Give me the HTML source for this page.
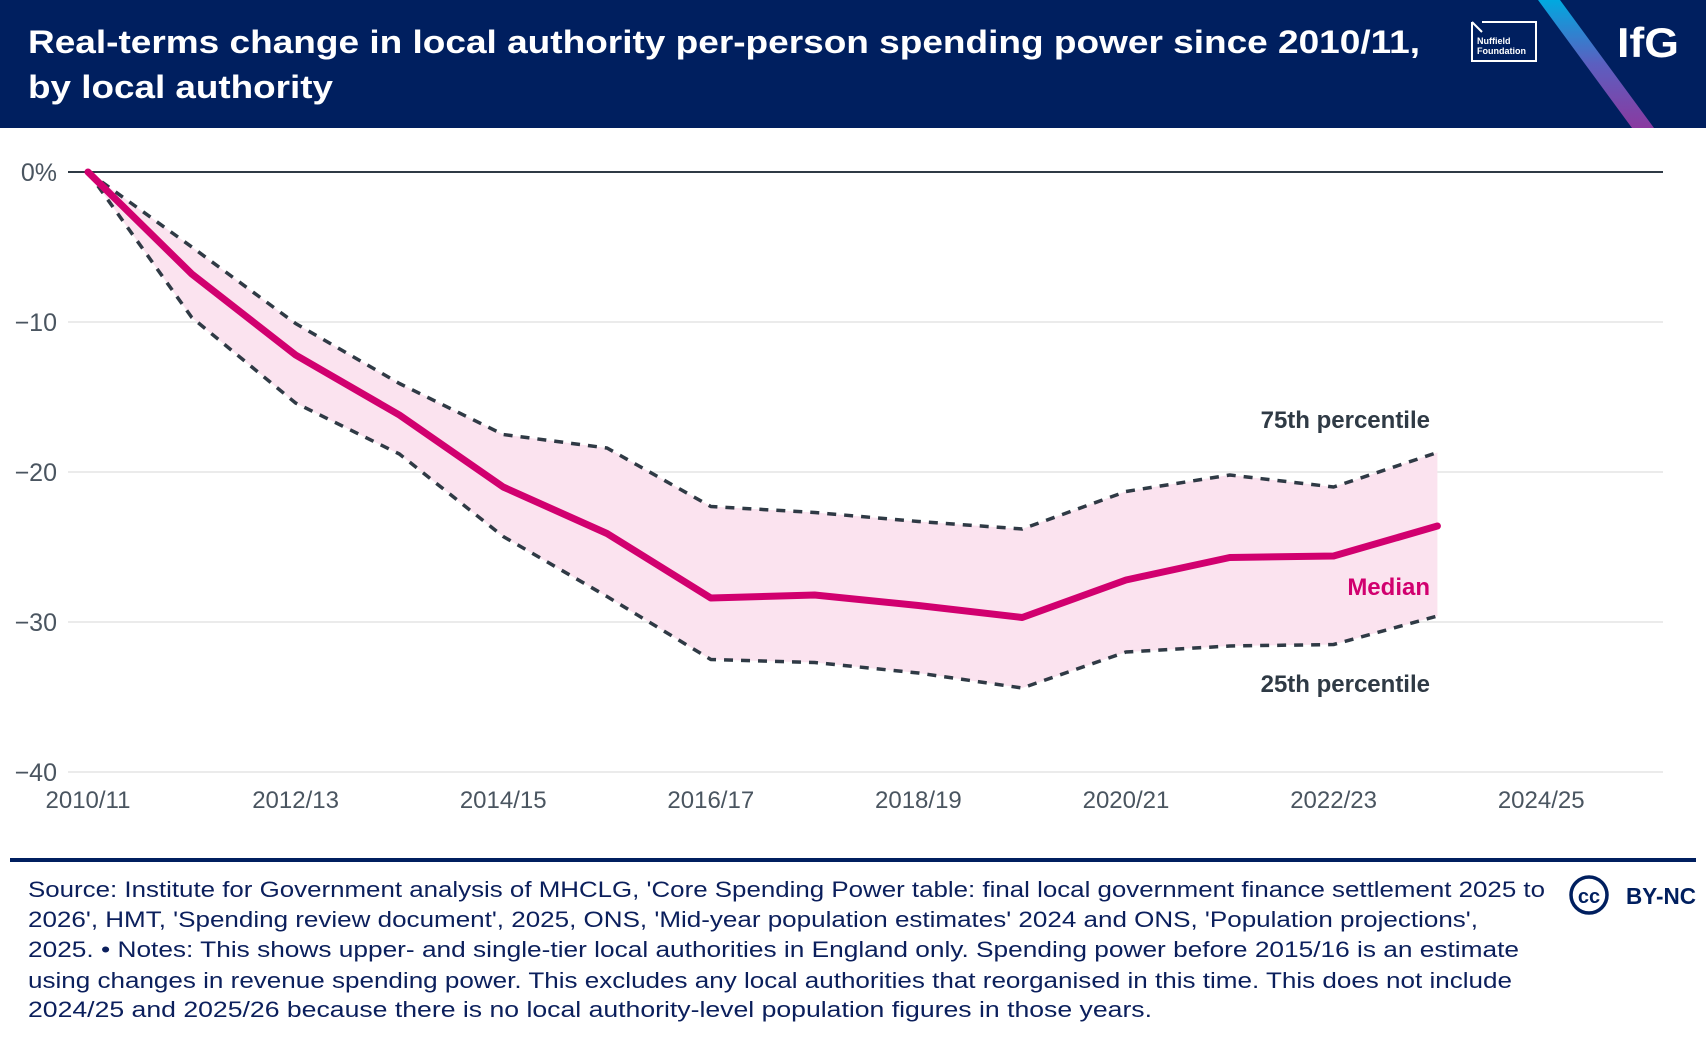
<!DOCTYPE html>
<html><head><meta charset="utf-8"><style>
html,body{margin:0;padding:0;background:#fff;}
svg{display:block;font-family:"Liberation Sans",sans-serif;}
</style></head><body>
<svg id="chart" width="1706" height="1038" viewBox="0 0 1706 1038" xmlns="http://www.w3.org/2000/svg">
<defs>
<linearGradient id="stripe" x1="0" y1="0" x2="0" y2="1">
<stop offset="0" stop-color="#00a9e0"/><stop offset="0.5" stop-color="#5b5fc0"/><stop offset="1" stop-color="#8a3aa0"/>
</linearGradient>
</defs>
<rect x="0" y="0" width="1706" height="128" fill="#001f5f"/>
<polygon points="1538,0 1560,0 1654,128 1632,128" fill="url(#stripe)"/>
<text x="28" y="53" fill="#fff" font-weight="bold" font-size="32" textLength="1392" lengthAdjust="spacingAndGlyphs">Real-terms change in local authority per-person spending power since 2010/11,</text>
<text x="28" y="98" fill="#fff" font-weight="bold" font-size="32" textLength="305" lengthAdjust="spacingAndGlyphs">by local authority</text>
<g>
<polyline points="1472,22 1472,61 1536,61 1536,22 1482,22" fill="none" stroke="#fff" stroke-width="2"/>
<line x1="1472" y1="22" x2="1482" y2="32" stroke="#fff" stroke-width="2"/>
<text x="1477" y="44" fill="#fff" font-size="9" font-weight="bold">Nuffield</text>
<text x="1477" y="54" fill="#fff" font-size="9" font-weight="bold">Foundation</text>
</g>
<text x="1617" y="57" fill="#fff" font-weight="bold" font-size="42" textLength="62" lengthAdjust="spacingAndGlyphs">IfG</text>
<g id="grid"></g>
<g id="yticks"></g>
<g id="xticks"></g>
<g id="series"></g>
<text x="1430" y="428" text-anchor="end" fill="#2f3a45" font-weight="bold" font-size="24">75th percentile</text>
<text x="1430" y="595" text-anchor="end" fill="#d1006f" font-weight="bold" font-size="24">Median</text>
<text x="1430" y="692" text-anchor="end" fill="#2f3a45" font-weight="bold" font-size="24">25th percentile</text>
<rect x="10" y="858" width="1686" height="4" fill="#001f5f"/>
<g fill="#0b1f5c" font-size="22">
<text x="28" y="897" textLength="1517" lengthAdjust="spacingAndGlyphs">Source: Institute for Government analysis of MHCLG, 'Core Spending Power table: final local government finance settlement 2025 to</text>
<text x="28" y="927" textLength="1450" lengthAdjust="spacingAndGlyphs">2026', HMT, 'Spending review document', 2025, ONS, 'Mid-year population estimates' 2024 and ONS, 'Population projections',</text>
<text x="28" y="957" textLength="1491" lengthAdjust="spacingAndGlyphs">2025. • Notes: This shows upper- and single-tier local authorities in England only. Spending power before 2015/16 is an estimate</text>
<text x="28" y="988" textLength="1484" lengthAdjust="spacingAndGlyphs">using changes in revenue spending power. This excludes any local authorities that reorganised in this time. This does not include</text>
<text x="28" y="1017" textLength="1124" lengthAdjust="spacingAndGlyphs">2024/25 and 2025/26 because there is no local authority-level population figures in those years.</text>
</g>
<g>
<circle cx="1589" cy="895" r="18" fill="none" stroke="#001f5f" stroke-width="3.5"/>
<text x="1589" y="903" text-anchor="middle" fill="#001f5f" font-weight="bold" font-size="20">cc</text>
<text x="1626" y="904" fill="#001f5f" font-weight="bold" font-size="23" textLength="70" lengthAdjust="spacingAndGlyphs">BY-NC</text>
</g>
</svg>
<script>
const years = ["2010/11","2011/12","2012/13","2013/14","2014/15","2015/16","2016/17","2017/18","2018/19","2019/20","2020/21","2021/22","2022/23","2023/24"];
const median = [0,-6.8,-12.2,-16.2,-21.0,-24.1,-28.4,-28.2,-28.9,-29.7,-27.2,-25.7,-25.6,-23.6];
const p75 = [0,-5.0,-10.1,-14.1,-17.5,-18.4,-22.3,-22.7,-23.3,-23.8,-21.3,-20.2,-21.0,-18.7];
const p25 = [0,-9.7,-15.4,-18.8,-24.3,-28.3,-32.5,-32.7,-33.4,-34.4,-32.0,-31.6,-31.5,-29.6];
const yTicks = [0,-10,-20,-30,-40];
const yTickLabels = ["0%","\u221210","\u221220","\u221230","\u221240"];
const xTickLabels = ["2010/11","2012/13","2014/15","2016/17","2018/19","2020/21","2022/23","2024/25"];
const xTickIdx = [0,2,4,6,8,10,12,14];

const NS="http://www.w3.org/2000/svg";
const X0=88, XSTEP=103.8, Y0=172, YPER=15;
function xs(i){return X0+i*XSTEP;}
function ys(v){return Y0-v*YPER;}
function mk(tag,attrs,parent){const e=document.createElementNS(NS,tag);for(const k in attrs)e.setAttribute(k,attrs[k]);parent.appendChild(e);return e;}

const grid=document.getElementById('grid'), yt=document.getElementById('yticks'), xt=document.getElementById('xticks'), ser=document.getElementById('series');
yTicks.forEach((v,i)=>{
  if(v!==0){const l=mk('line',{x1:68,x2:1663,y1:ys(v),y2:ys(v),stroke:'#ebebeb','stroke-width':2},grid);
  
  }
  const t=mk('text',{x:57,y:ys(v)+9,'text-anchor':'end',fill:'#4a5560','font-size':25},yt);
  t.textContent=yTickLabels[i];
  
  
});
xTickLabels.forEach((s,i)=>{
  const t=mk('text',{x:xs(xTickIdx[i]),y:808,'text-anchor':'middle',fill:'#4a5560','font-size':24},xt);
  t.textContent=s;
  
  
});
// band
let pts=p75.map((v,i)=>xs(i)+','+ys(v));
for(let i=p25.length-1;i>=0;i--)pts.push(xs(i)+','+ys(p25[i]));
const band=mk('polygon',{points:pts.join(' '),fill:'#fbe3ef'},ser);


const zero=mk('line',{x1:68,x2:1663,y1:ys(0),y2:ys(0),stroke:'#2f3a45','stroke-width':2},ser);


function line(arr,attrs){return mk('polyline',Object.assign({points:arr.map((v,i)=>xs(i)+','+ys(v)).join(' '),fill:'none','stroke-linejoin':'round'},attrs),ser);}
const l75=line(p75,{stroke:'#2f3a45','stroke-width':3.5,'stroke-dasharray':'9 8'});


const l25=line(p25,{stroke:'#2f3a45','stroke-width':3.5,'stroke-dasharray':'9 8'});


const lm=line(median,{stroke:'#d1006f','stroke-width':7,'stroke-linecap':'round'});


</script>
</body></html>
